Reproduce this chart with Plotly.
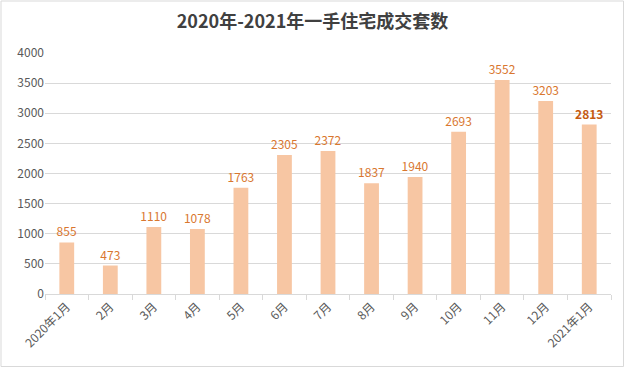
import plotly.graph_objects as go

categories = ["2020年1月", "2月", "3月", "4月", "5月", "6月", "7月", "8月", "9月", "10月", "11月", "12月", "2021年1月"]
values = [855, 473, 1110, 1078, 1763, 2305, 2372, 1837, 1940, 2693, 3552, 3203, 2813]
y_ticks = [0, 500, 1000, 1500, 2000, 2500, 3000, 3500, 4000]

W, H = 625, 368
ml, mr, mt, mb = 45, 14, 53, 74
pw, ph = W - ml - mr, H - mt - mb

label_text = [f"<b>{v}</b>" if i == len(values) - 1 else str(v) for i, v in enumerate(values)]
label_colors = ["#C55A11" if i == len(values) - 1 else "#D9772F" for i in range(len(values))]

fig = go.Figure(go.Bar(
    x=categories, y=values, width=0.34,
    marker=dict(color="#F7C6A3", line=dict(width=0)),
    text=label_text, textposition="outside", cliponaxis=False,
    constraintext="none",
    textfont=dict(color=label_colors, size=12, family="Noto Sans CJK SC"),
))

fig.update_layout(
    width=W, height=H,
    margin=dict(l=ml, r=mr, t=mt, b=mb, autoexpand=False),
    paper_bgcolor="white", plot_bgcolor="white",
    font=dict(family="Noto Sans CJK SC", color="#595959", size=12),
    title=dict(text="<b>2020年-2021年一手住宅成交套数</b>", x=0.5, xanchor="center",
               y=1 - 22 / H, yanchor="middle", font=dict(size=18, color="#404040")),
    showlegend=False,
    uniformtext=dict(minsize=12, mode="show"),
    shapes=[dict(type="rect", xref="paper", yref="paper",
                 x0=-(ml - 1) / pw, x1=1 + (mr - 1.5) / pw,
                 y0=-(mb - 1.5) / ph, y1=1 + (mt - 1) / ph,
                 line=dict(color="#D9D9D9", width=1))],
)
fig.update_xaxes(type="category", tickson="boundaries", ticks="outside", ticklen=5,
                 tickcolor="#D9D9D9", showline=True, linecolor="#D9D9D9", automargin=False,
                 tickangle=-45, showgrid=False, tickfont=dict(size=12, color="#595959"))
fig.update_yaxes(range=[0, 4000], tickvals=y_ticks, showgrid=True, gridcolor="#D9D9D9",
                 automargin=False, zeroline=False, showline=False, ticks="",
                 tickfont=dict(size=12, color="#595959"))

fig.write_html("out.html", config={"displayModeBar": False},
               post_script="document.body.style.margin='0';")
